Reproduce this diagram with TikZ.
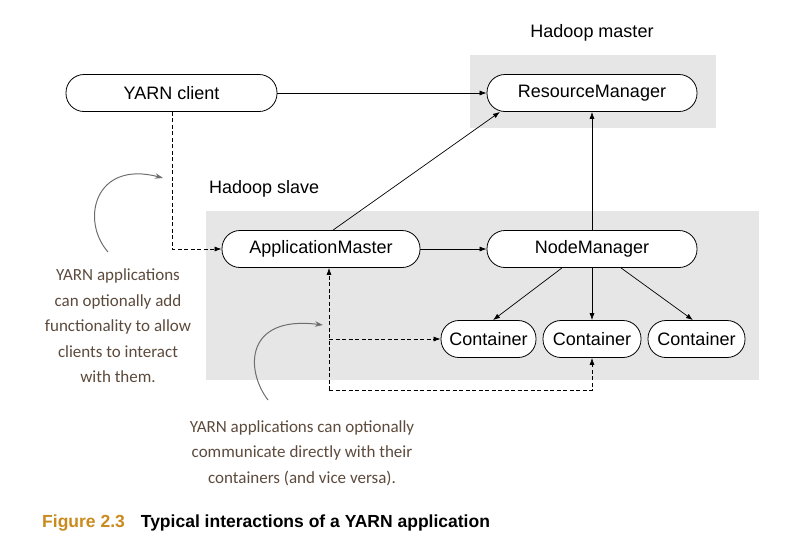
\documentclass[tikz,border=0pt]{standalone}
\usepackage{fontspec}
\setmainfont{Liberation Sans}
\newfontfamily\handfont{Carlito}
\usetikzlibrary{arrows.meta}
\definecolor{boxgray}{HTML}{E6E6E6}
\definecolor{notebrown}{HTML}{5C4A3C}
\definecolor{figgold}{HTML}{C98A1E}
\definecolor{curvegray}{HTML}{6E6E6E}
\begin{document}
\begin{tikzpicture}[x=1pt,y=-1pt,
  proc/.style={draw=black, line width=0.8pt, fill=white, rounded corners=18pt,
    minimum height=37pt, inner sep=0pt, font=\fontsize{18}{20}\selectfont},
  lab/.style={font=\fontsize{18}{20}\selectfont, inner sep=0pt},
  arr/.style={-{Latex[length=7pt,width=5pt]}, line width=0.7pt},
  dsh/.style={dash pattern=on 4pt off 2.5pt},
  note/.style={text=notebrown, font=\handfont\fontsize{17}{25.5}\selectfont, align=center},
  curv/.style={draw=curvegray, line width=1pt, -{Stealth[length=8pt,width=5.5pt]}}
]
\useasboundingbox (0,0) rectangle (809,547);
% regions
\fill[boxgray] (470,55) rectangle (716,128);
\fill[boxgray] (206,211) rectangle (759,380);
\node[lab] (hm) at (592,33) {Hadoop master};
\node[lab, anchor=west] (hs) at (209,189) {Hadoop slave};
% nodes
\node[proc, minimum width=211pt] (yc) at (171.5,93) {YARN client};
\node[proc, minimum width=210pt] (rm) at (592,93) {ResourceManager};
\node[proc, minimum width=198pt] (am) at (321,249) {ApplicationMaster};
\node[proc, minimum width=210pt] (nm) at (592,249) {NodeManager};
\node[proc, minimum width=95pt] (c1) at (488.5,339) {Container};
\node[proc, minimum width=98pt] (c2) at (592,339) {Container};
\node[proc, minimum width=97pt] (c3) at (696.5,339) {Container};
% solid connectors
\draw[arr] (yc) -- (rm);
\draw[arr] (nm) -- (rm);
\draw[arr] ([xshift=12pt]am.north) -- ([xshift=-92pt]rm.south);
\draw[arr] (am) -- (nm);
\draw[arr] ([xshift=-30pt]nm.south) -- ([xshift=4.5pt]c1.north);
\draw[arr] (nm) -- (c2);
\draw[arr] ([xshift=29pt]nm.south) -- ([xshift=-3.5pt]c3.north);
% dashed connectors
\draw[arr, dsh] ([xshift=0.5pt]yc.south) |- (am.west);
\coordinate (b1) at (329,390);
\coordinate (j1) at (329,339);
\draw[arr, dsh] (b1) -- (am.south -| b1);
\draw[arr, dsh] (j1) -- (c1.west);
\draw[arr, dsh] (b1) -| (c2.south);
% annotations
\node[note] (n1) at (118,326) {YARN applications\\can optionally add\\functionality to allow\\clients to interact\\with them.};
\node[note] (n2) at (302,453) {YARN applications can optionally\\communicate directly with their\\containers (and vice versa).};
\coordinate (a1s) at (108,252);
\coordinate (a1e) at (163,178);
\coordinate (a2s) at (268,400);
\coordinate (a2e) at (323,325);
\draw[curv] (a1s) .. controls (80,220) and (95,160) .. (a1e);
\draw[curv] (a2s) .. controls (245,370) and (245,315) .. (a2e);
% caption
\node[anchor=west, inner sep=0pt, font=\bfseries\fontsize{17.5}{19}\selectfont] (cap) at (42,523)
  {\textcolor{figgold}{Figure 2.3}\hspace{16pt}Typical interactions of a YARN application};
\end{tikzpicture}
\end{document}
